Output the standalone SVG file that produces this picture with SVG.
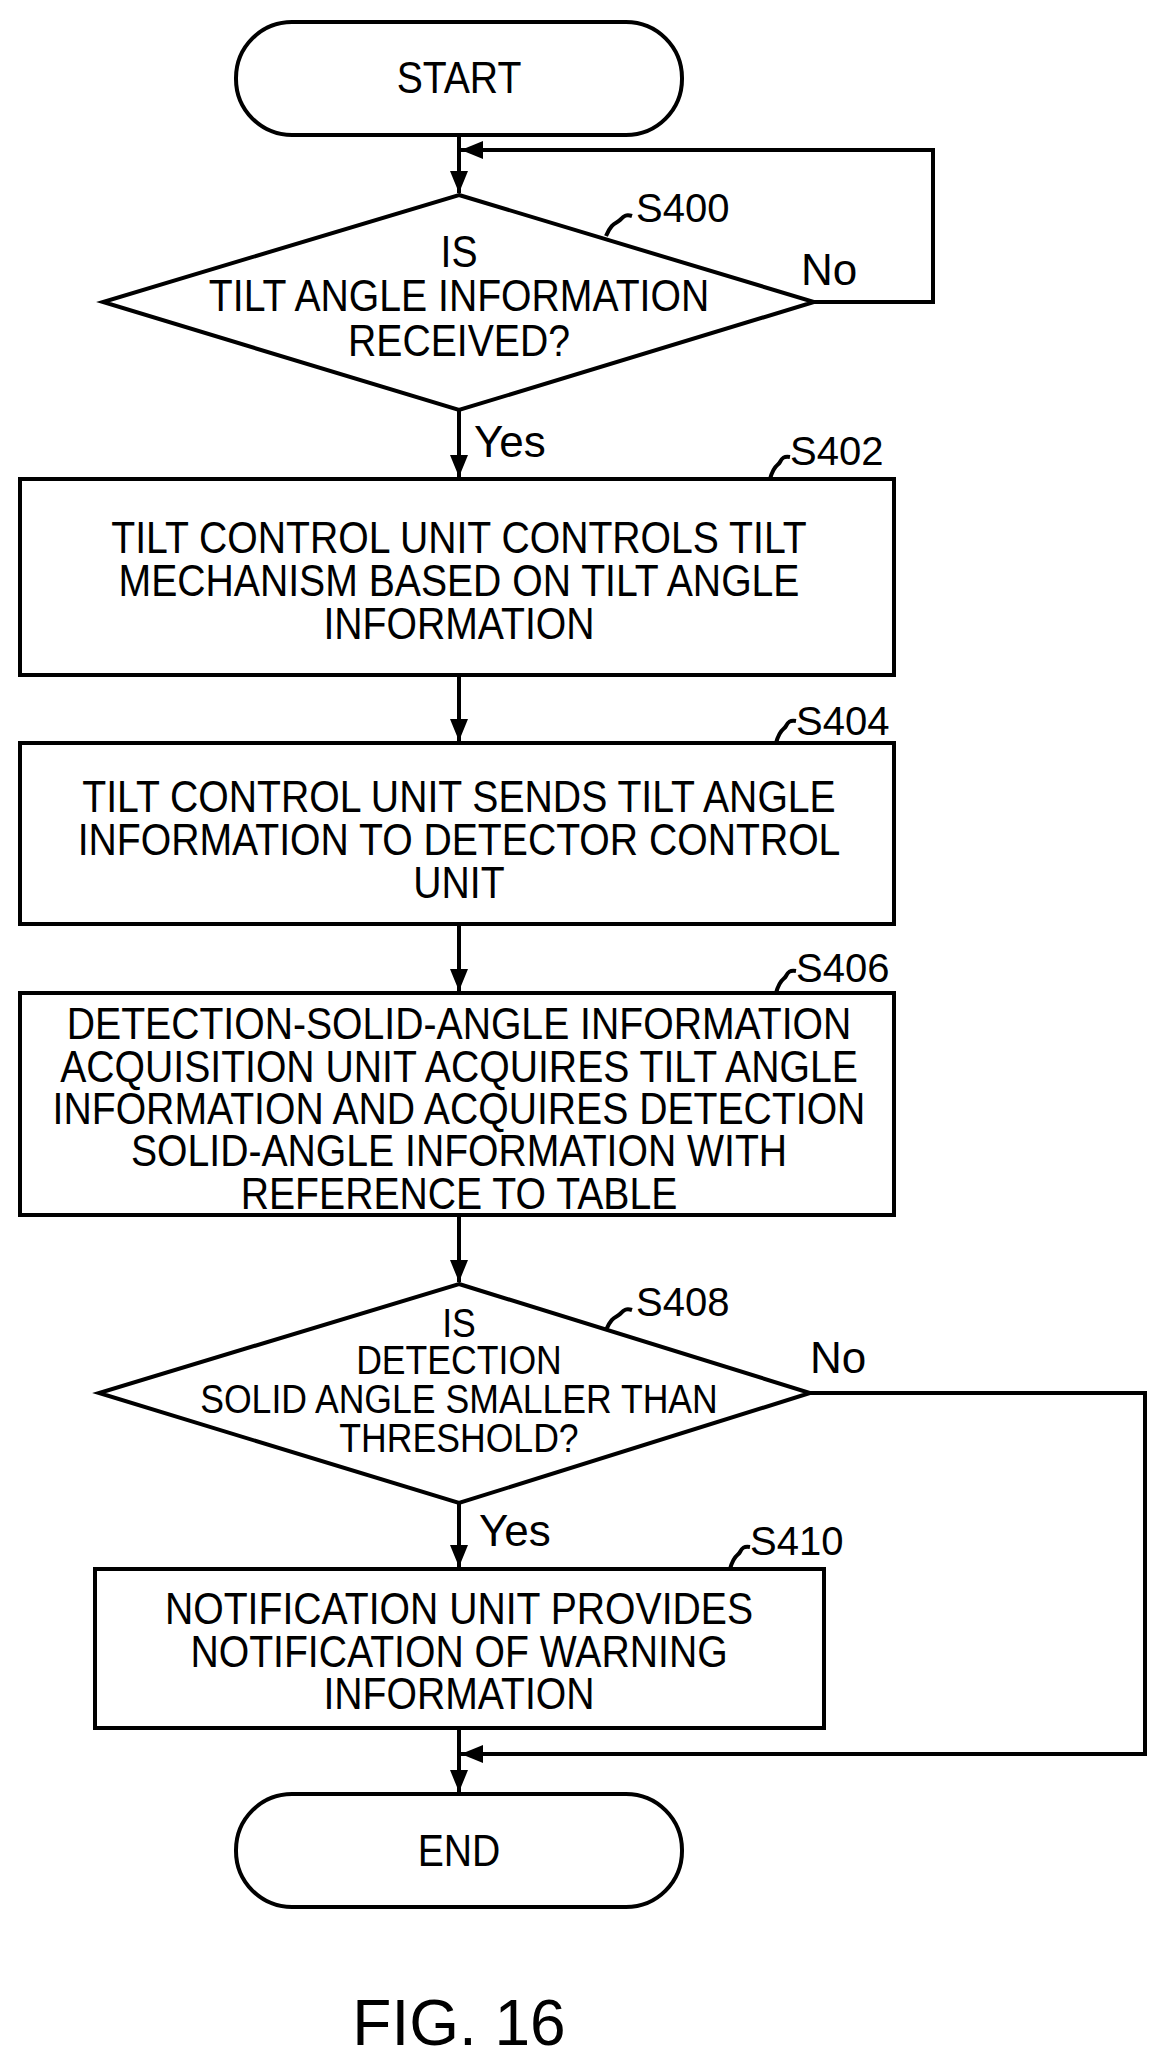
<svg xmlns="http://www.w3.org/2000/svg" width="1165" height="2065" viewBox="0 0 1165 2065">
<style>
.s{fill:none;stroke:#000;stroke-width:4}
.n{fill:#fff;stroke:#000;stroke-width:4}
text{font-family:"Liberation Sans",Arial,sans-serif;font-size:44px;fill:#000}
.c{text-anchor:middle}
.l{font-size:40px}
.d{font-size:40px}
</style>
<defs><marker id="ah" markerWidth="22" markerHeight="18" refX="22" refY="9" orient="auto" markerUnits="userSpaceOnUse"><path d="M0,0L22,9L0,18z"/></marker></defs>
<g id="connectors">
<path class="s" d="M459,135V193" marker-end="url(#ah)"/>
<path class="s" d="M814,302H933V150H461" marker-end="url(#ah)"/>
<path class="s" d="M459,410V477" marker-end="url(#ah)"/>
<path class="s" d="M459,675V741" marker-end="url(#ah)"/>
<path class="s" d="M459,924V991" marker-end="url(#ah)"/>
<path class="s" d="M459,1215V1282" marker-end="url(#ah)"/>
<path class="s" d="M459,1503V1567" marker-end="url(#ah)"/>
<path class="s" d="M459,1728V1792" marker-end="url(#ah)"/>
<path class="s" d="M810,1393H1145V1754H461" marker-end="url(#ah)"/>
<text x="801" y="285">No</text>
<text x="474" y="457">Yes</text>
<text x="810" y="1373">No</text>
<text x="479" y="1546">Yes</text>
</g>
<g id="start"><rect class="n" x="236" y="22" width="446" height="113" rx="56"/>
<text class="c" transform="translate(459,0) scale(0.89,1)" x="0" y="93">START</text></g>
<g id="S400"><path class="n" d="M459,195L814,302L459,410L103,302Z"/>
<g transform="translate(459,0) scale(0.89,1)"><text class="c" y="267">IS</text><text class="c" y="311">TILT ANGLE INFORMATION</text><text class="c" y="356">RECEIVED?</text></g>
<path class="s" stroke-width="3" d="M606,236C612,222 616,224 620,220S626,214 632,216"/><text class="l" x="636" y="222">S400</text></g>
<g id="S402"><rect class="n" x="20" y="479" width="874" height="196"/>
<g transform="translate(459,0) scale(0.89,1)"><text class="c" y="553">TILT CONTROL UNIT CONTROLS TILT</text><text class="c" y="596">MECHANISM BASED ON TILT ANGLE</text><text class="c" y="639">INFORMATION</text></g>
<path class="s" stroke-width="3" d="M770,479C774,464 778,466 780,462S784,456 790,457"/><text class="l" x="790" y="465">S402</text></g>
<g id="S404"><rect class="n" x="20" y="743" width="874" height="181"/>
<g transform="translate(459,0) scale(0.89,1)"><text class="c" y="812">TILT CONTROL UNIT SENDS TILT ANGLE</text><text class="c" y="855">INFORMATION TO DETECTOR CONTROL</text><text class="c" y="898">UNIT</text></g>
<path class="s" stroke-width="3" d="M776,743C780,728 784,730 786,726S790,720 796,721"/><text class="l" x="796" y="735">S404</text></g>
<g id="S406"><rect class="n" x="20" y="993" width="874" height="222"/>
<g transform="translate(459,0) scale(0.89,1)"><text class="c" y="1039">DETECTION-SOLID-ANGLE INFORMATION</text><text class="c" y="1082">ACQUISITION UNIT ACQUIRES TILT ANGLE</text><text class="c" y="1124">INFORMATION AND ACQUIRES DETECTION</text><text class="c" y="1166">SOLID-ANGLE INFORMATION WITH</text><text class="c" y="1209">REFERENCE TO TABLE</text></g>
<path class="s" stroke-width="3" d="M776,993C780,978 784,980 786,976S790,970 796,971"/><text class="l" x="796" y="982">S406</text></g>
<g id="S408"><path class="n" d="M459,1284L810,1393L459,1503L99,1393Z"/>
<g transform="translate(459,0) scale(0.89,1)"><text class="c d" y="1337">IS</text><text class="c d" y="1374">DETECTION</text><text class="c d" y="1413">SOLID ANGLE SMALLER THAN</text><text class="c d" y="1452">THRESHOLD?</text></g>
<path class="s" stroke-width="3" d="M606,1330C612,1316 616,1318 620,1314S626,1308 632,1310"/><text class="l" x="636" y="1316">S408</text></g>
<g id="S410"><rect class="n" x="95" y="1569" width="729" height="159"/>
<g transform="translate(459,0) scale(0.89,1)"><text class="c" y="1624">NOTIFICATION UNIT PROVIDES</text><text class="c" y="1667">NOTIFICATION OF WARNING</text><text class="c" y="1709">INFORMATION</text></g>
<path class="s" stroke-width="3" d="M730,1569C734,1554 738,1556 740,1552S744,1546 750,1547"/><text class="l" x="750" y="1555">S410</text></g>
<g id="end"><rect class="n" x="236" y="1794" width="446" height="113" rx="56"/>
<text class="c" transform="translate(459,0) scale(0.89,1)" x="0" y="1866">END</text></g>
<text class="c" x="459" y="2045" style="font-size:64px">FIG. 16</text>
</svg>
